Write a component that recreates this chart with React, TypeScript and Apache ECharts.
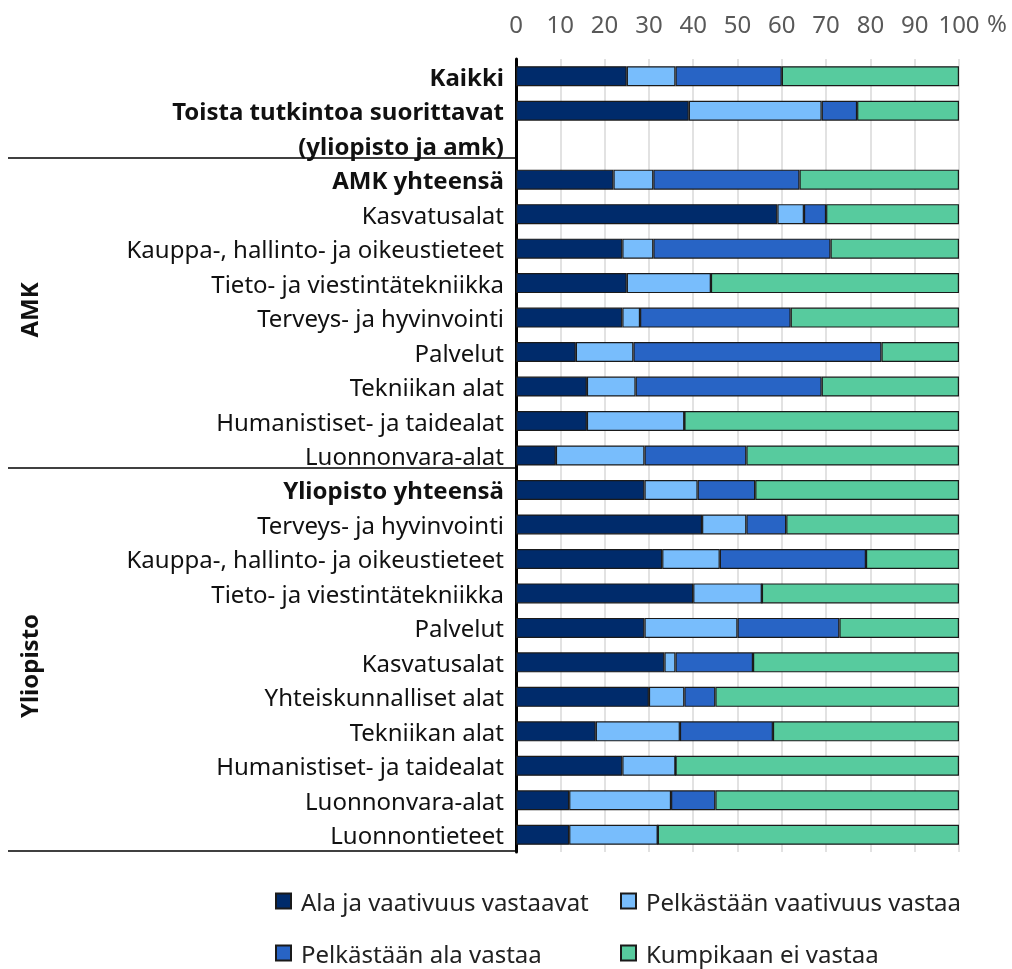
import React, { useEffect, useRef } from "react";
import * as echarts from "echarts";

const categories = [
  "Kaikki",
  "Toista tutkintoa suorittavat",
  "(yliopisto ja amk)",
  "AMK yhteensä",
  "Kasvatusalat",
  "Kauppa-, hallinto- ja oikeustieteet",
  "Tieto- ja viestintätekniikka",
  "Terveys- ja hyvinvointi",
  "Palvelut",
  "Tekniikan alat",
  "Humanistiset- ja taidealat",
  "Luonnonvara-alat",
  "Yliopisto yhteensä",
  "Terveys- ja hyvinvointi ",
  "Kauppa-, hallinto- ja oikeustieteet ",
  "Tieto- ja viestintätekniikka ",
  "Palvelut ",
  "Kasvatusalat ",
  "Yhteiskunnalliset alat",
  "Tekniikan alat ",
  "Humanistiset- ja taidealat ",
  "Luonnonvara-alat ",
  "Luonnontieteet",
];

const boldLabels = ["Kaikki", "Toista tutkintoa suorittavat", "(yliopisto ja amk)", "AMK yhteensä", "Yliopisto yhteensä"];

const seriesNames = [
  "Ala ja vaativuus vastaavat",
  "Pelkästään vaativuus vastaa",
  "Pelkästään ala vastaa",
  "Kumpikaan ei vastaa",
];

const alaJaVaativuus = [25, 39, null, 22, 59, 24, 25, 24, 13.5, 16, 16, 9, 29, 42, 33, 40, 29, 33.5, 30, 18, 24, 12, 12];
const vainVaativuus = [11, 30, null, 9, 6, 7, 19, 4, 13, 11, 22, 20, 12, 10, 13, 15.5, 21, 2.5, 8, 19, 12, 23, 20];
const vainAla = [24, 8, null, 33, 5, 40, 0, 34, 56, 42, 0, 23, 13, 9, 33, 0, 23, 17.5, 7, 21, 0, 10, 0];
const kumpikaan = [40, 23, null, 36, 30, 29, 56, 38, 17.5, 31, 62, 48, 46, 39, 21, 44.5, 27, 46.5, 55, 42, 64, 55, 68];

const xTicks = [0, 10, 20, 30, 40, 50, 60, 70, 80, 90, 100];

const colors = ["#002b6b", "#78bdfc", "#2864c5", "#57cb9e"];
const FONT = "Noto Sans";
const FS = 24;

export default function App() {
  const ref = useRef<HTMLDivElement>(null);
  useEffect(() => {
    if (!ref.current) return;
    const chart = echarts.init(ref.current, undefined, { renderer: "svg" });
    const values = [alaJaVaativuus, vainVaativuus, vainAla, kumpikaan];
    const legendPos = [
      { left: 275, top: 889 },
      { left: 620, top: 889 },
      { left: 275, top: 941 },
      { left: 620, top: 941 },
    ];
    chart.setOption({
      animation: false,
      textStyle: { fontFamily: FONT },
      grid: { left: 516, width: 443, top: 59, height: 793, containLabel: false },
      xAxis: {
        type: "value",
        position: "top",
        min: 0,
        max: 100,
        interval: 10,
        axisLine: { show: false },
        axisTick: { show: false },
        axisLabel: {
          color: "#595959",
          fontSize: FS,
          fontFamily: FONT,
          margin: 24,
          formatter: (v: number) => (xTicks.includes(v) ? String(v) : ""),
        },
        splitLine: { show: true, lineStyle: { color: "#d9d9d9", width: 1.5 } },
      },
      yAxis: {
        type: "category",
        data: categories,
        inverse: true,
        axisLine: { show: true, lineStyle: { color: "#000", width: 3 } },
        axisTick: { show: false },
        axisLabel: {
          margin: 12,
          fontSize: FS,
          color: "#111",
          fontFamily: FONT,
          formatter: (v: string) => {
            const t = v.trim();
            return boldLabels.includes(t) && v === t ? `{b|${t}}` : `{n|${t}}`;
          },
          rich: {
            b: { fontWeight: "bold", fontSize: FS, color: "#111", fontFamily: FONT },
            n: { fontSize: FS, color: "#111", fontFamily: FONT },
          },
        },
      },
      legend: seriesNames.map((name, i) => ({
        data: [name],
        left: legendPos[i].left,
        top: legendPos[i].top,
        padding: 0,
        orient: "horizontal",
        itemWidth: 15,
        itemHeight: 15,
        itemGap: 10,
        icon: "rect",
        selectedMode: false,
        textStyle: { fontSize: FS, lineHeight: 22, color: "#222", fontFamily: FONT, padding: [0, 0, 0, 5] },
      })),
      series: seriesNames.map((name, i) => ({
        name,
        type: "bar",
        stack: "total",
        data: values[i],
        barWidth: 20,
        itemStyle: { color: colors[i], borderColor: "#1a1a1a", borderWidth: 1.2 },
      })),
      graphic: [
        { type: "line", shape: { x1: 8, y1: 158, x2: 516, y2: 158 }, style: { stroke: "#000", lineWidth: 1.5 } },
        { type: "line", shape: { x1: 8, y1: 468, x2: 516, y2: 468 }, style: { stroke: "#000", lineWidth: 1.5 } },
        { type: "line", shape: { x1: 8, y1: 851, x2: 516, y2: 851 }, style: { stroke: "#000", lineWidth: 1.5 } },
        {
          type: "text",
          x: 28,
          y: 310,
          rotation: Math.PI / 2,
          style: { text: "AMK", fontSize: FS, fontWeight: "bold", fill: "#111", fontFamily: FONT, align: "center", verticalAlign: "middle" },
        },
        {
          type: "text",
          x: 28,
          y: 666,
          rotation: Math.PI / 2,
          style: { text: "Yliopisto", fontSize: FS, fontWeight: "bold", fill: "#111", fontFamily: FONT, align: "center", verticalAlign: "middle" },
        },
        {
          type: "text",
          x: 987,
          y: 22,
          style: { text: "%", fontSize: FS, fill: "#595959", fontFamily: FONT, align: "left", verticalAlign: "middle" },
        },
      ],
    });
    return () => chart.dispose();
  }, []);
  return <div ref={ref} style={{ position: "fixed", left: 0, top: 0, width: 1012, height: 969 }} />;
}
